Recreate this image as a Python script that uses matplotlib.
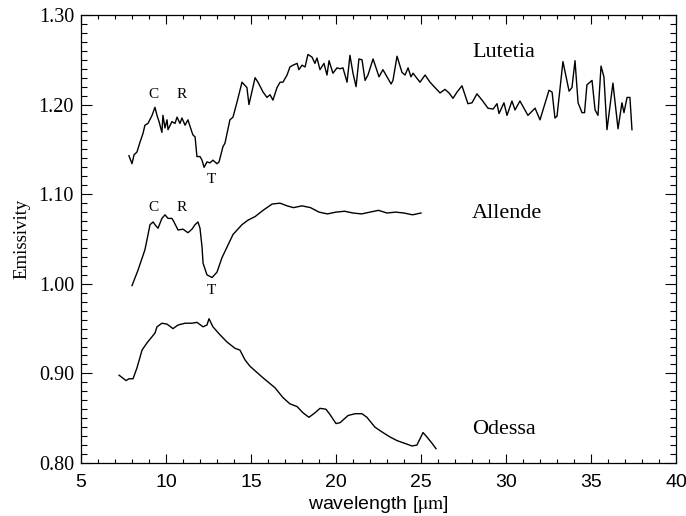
import numpy as np
import matplotlib as mpl
mpl.use('agg')
mpl.rcParams['mathtext.fontset'] = 'stix'
import matplotlib.pyplot as plt
from matplotlib.ticker import MultipleLocator

SERIF = 'Liberation Serif'
SANS = 'Liberation Sans'

# Lutetia spectrum (wavelength [um], emissivity)
lut_wl = [7.82, 8.00, 8.12, 8.29, 8.47, 8.65, 8.76, 8.94, 9.18, 9.35, 9.47, 9.59,
          9.76, 9.82, 9.94, 10.06, 10.12, 10.35, 10.53, 10.65, 10.82, 10.94, 11.12,
          11.29, 11.53, 11.59, 11.71, 11.82, 12.00, 12.12, 12.24, 12.41, 12.59, 12.76,
          13.00, 13.12, 13.35, 13.47, 13.76, 13.94, 14.18, 14.47, 14.76, 14.88, 15.24,
          15.41, 15.71, 15.94, 16.12, 16.29, 16.53, 16.71, 16.88, 17.12, 17.29, 17.47,
          17.71, 17.82, 18.00, 18.18, 18.35, 18.59, 18.76, 18.88, 19.06, 19.29, 19.47,
          19.59, 19.82, 20.06, 20.24, 20.41, 20.65, 20.82, 21.00, 21.18, 21.35, 21.53,
          21.71, 21.88, 22.18, 22.53, 22.76, 23.24, 23.35, 23.59, 23.88, 24.06, 24.24,
          24.41, 24.53, 24.94, 25.24, 25.53, 26.12, 26.41, 26.65, 26.88, 27.12, 27.41,
          27.76, 28.00, 28.29, 28.59, 28.94, 29.24, 29.47, 29.59, 29.88, 30.06, 30.35,
          30.53, 30.82, 31.29, 31.71, 32.00, 32.53, 32.71, 32.88, 33.00, 33.35, 33.71,
          33.88, 34.06, 34.24, 34.47, 34.62, 34.76, 35.06, 35.24, 35.41, 35.59, 35.76,
          35.94, 36.29, 36.59, 36.82, 36.94, 37.12, 37.29, 37.41]
lut_em = [1.143, 1.134, 1.144, 1.147, 1.158, 1.168, 1.177, 1.179, 1.188, 1.197, 1.188, 1.181,
          1.169, 1.188, 1.174, 1.183, 1.172, 1.181, 1.179, 1.186, 1.179, 1.185, 1.177,
          1.183, 1.169, 1.166, 1.164, 1.142, 1.142, 1.138, 1.130, 1.136, 1.135, 1.138,
          1.134, 1.136, 1.153, 1.157, 1.183, 1.186, 1.203, 1.225, 1.219, 1.200, 1.230,
          1.225, 1.214, 1.208, 1.211, 1.205, 1.219, 1.225, 1.225, 1.233, 1.242, 1.244,
          1.246, 1.239, 1.244, 1.242, 1.256, 1.253, 1.246, 1.252, 1.239, 1.246, 1.233,
          1.249, 1.235, 1.241, 1.240, 1.241, 1.225, 1.255, 1.235, 1.220, 1.251, 1.250,
          1.227, 1.233, 1.251, 1.231, 1.239, 1.223, 1.227, 1.254, 1.236, 1.233, 1.241,
          1.231, 1.235, 1.225, 1.233, 1.225, 1.213, 1.217, 1.213, 1.207, 1.214, 1.221,
          1.201, 1.202, 1.212, 1.205, 1.196, 1.195, 1.201, 1.190, 1.202, 1.188, 1.204,
          1.194, 1.204, 1.188, 1.196, 1.183, 1.216, 1.214, 1.185, 1.187, 1.248, 1.215,
          1.219, 1.249, 1.202, 1.191, 1.191, 1.222, 1.227, 1.194, 1.188, 1.243, 1.231,
          1.172, 1.224, 1.173, 1.202, 1.191, 1.208, 1.208, 1.172]

# Allende spectrum
all_wl = [8.00, 8.35, 8.76, 8.88, 9.06, 9.24, 9.35, 9.53, 9.76, 9.94, 10.12, 10.35,
          10.47, 10.71, 11.00, 11.29, 11.53, 11.71, 11.88, 12.00, 12.12, 12.18, 12.41,
          12.71, 13.00, 13.29, 13.59, 13.94, 14.47, 14.82, 15.24, 15.71, 16.24, 16.71,
          17.12, 17.50, 18.00, 18.50, 19.00, 19.50, 20.00, 20.50, 21.00, 21.50, 22.00,
          22.50, 23.00, 23.50, 24.00, 24.50, 25.00]
all_em = [0.998, 1.015, 1.038, 1.049, 1.066, 1.069, 1.066, 1.062, 1.073, 1.077, 1.073, 1.073,
          1.069, 1.060, 1.061, 1.057, 1.061, 1.066, 1.069, 1.062, 1.041, 1.023, 1.010,
          1.007, 1.013, 1.029, 1.041, 1.055, 1.066, 1.071, 1.075, 1.082, 1.089, 1.090,
          1.087, 1.085, 1.087, 1.085, 1.080, 1.078, 1.080, 1.081, 1.079, 1.078, 1.080,
          1.082, 1.079, 1.080, 1.079, 1.077, 1.079]

# Odessa spectrum
ode_wl = [7.24, 7.65, 7.82, 8.06, 8.29, 8.59, 8.88, 9.18, 9.35, 9.47, 9.76, 10.06,
          10.41, 10.71, 11.12, 11.53, 11.82, 12.18, 12.41, 12.53, 12.76, 13.18, 13.59,
          14.06, 14.35, 14.65, 14.94, 15.71, 16.41, 16.88, 17.29, 17.71, 18.06, 18.41,
          18.76, 19.06, 19.41, 19.65, 20.00, 20.24, 20.71, 21.12, 21.53, 21.82, 22.29,
          22.76, 23.18, 23.59, 23.88, 24.18, 24.47, 24.76, 24.94, 25.12, 25.35, 25.65,
          25.88]
ode_em = [0.898, 0.892, 0.894, 0.894, 0.906, 0.926, 0.934, 0.941, 0.945, 0.952, 0.956, 0.955,
          0.950, 0.954, 0.956, 0.956, 0.957, 0.952, 0.954, 0.961, 0.952, 0.943, 0.935,
          0.928, 0.926, 0.915, 0.908, 0.895, 0.884, 0.873, 0.866, 0.863, 0.856, 0.851,
          0.856, 0.861, 0.860, 0.854, 0.844, 0.845, 0.853, 0.855, 0.855, 0.851, 0.840,
          0.834, 0.829, 0.825, 0.823, 0.821, 0.819, 0.820, 0.827, 0.834, 0.829, 0.822,
          0.816]

names = ['Lutetia', 'Allende', 'Odessa']
name_pos = [(28.0, 1.258), (28.0, 1.079), (28.0, 0.837)]
# band labels: Christiansen feature, Reststrahlen, Transparency
band_txt = ['C', 'R', 'T', 'C', 'R', 'T']
band_pos = [(9.24, 1.211), (10.94, 1.211), (12.65, 1.116),
            (9.24, 1.085), (10.94, 1.085), (12.65, 0.993)]

fig = plt.figure(figsize=(6.86, 5.16), dpi=100)
ax = fig.add_axes([81/686, 1-463/516, 595/686, 448/516])

for wl, em in [(lut_wl, lut_em), (all_wl, all_em), (ode_wl, ode_em)]:
    ax.plot(wl, em, color='k', lw=1.0)

for nm, (x, y) in zip(names, name_pos):
    ax.text(x, y, nm, family=SERIF, fontsize=16, ha='left', va='center')
for t, (x, y) in zip(band_txt, band_pos):
    ax.text(x, y, t, family=SERIF, fontsize=11, ha='center', va='center')

ax.set_xlim(5, 40)
ax.set_ylim(0.80, 1.30)
ax.xaxis.set_major_locator(MultipleLocator(5))
ax.xaxis.set_minor_locator(MultipleLocator(1))
ax.yaxis.set_major_locator(MultipleLocator(0.1))
ax.yaxis.set_minor_locator(MultipleLocator(0.01))
ax.tick_params(which='both', direction='in', top=True, right=True, width=0.8)
ax.tick_params(axis='x', which='major', length=6.5, pad=8)
ax.tick_params(axis='x', which='minor', length=3)
ax.tick_params(axis='y', which='major', length=8, pad=5)
ax.tick_params(axis='y', which='minor', length=4)
ax.set_yticks([0.8, 0.9, 1.0, 1.1, 1.2, 1.3])
ax.set_yticklabels(['0.80', '0.90', '1.00', '1.10', '1.20', '1.30'])
for lab in ax.get_yticklabels():
    lab.set_family(SERIF)
    lab.set_fontsize(14.5)
for lab in ax.get_xticklabels():
    lab.set_family(SANS)
    lab.set_fontsize(14)
for sp in ax.spines.values():
    sp.set_linewidth(0.9)

ax.set_xlabel(r'wavelength [$\mathrm{\mu m}$]', family=SANS, fontsize=14, labelpad=2)
ax.set_ylabel('Emissivity', family=SERIF, fontsize=13.5, labelpad=6)

fig.savefig('out.png', dpi=100)
